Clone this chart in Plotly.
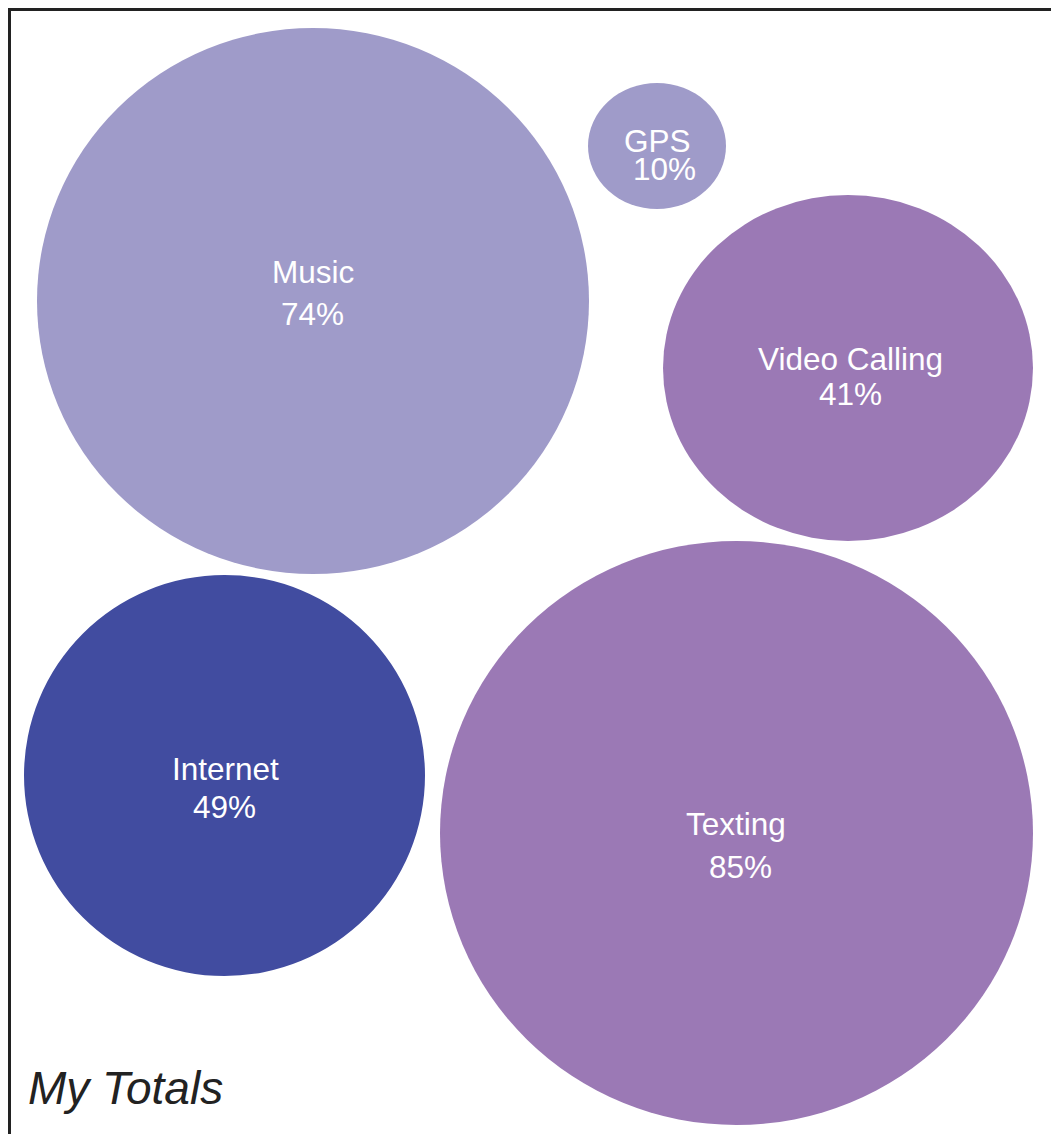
import plotly.graph_objects as go

# ---- data ----
categories = ["Music", "GPS", "Video Calling", "Internet", "Texting"]
values = [74, 10, 41, 49, 85]
title_text = "My Totals"

# ---- layout (pixel-space placement of each bubble) ----
centers_x = [313, 657, 848, 224.5, 736.5]
centers_y = [301, 146, 368, 775.5, 833]
radii_x = [276, 69, 185, 200.5, 296.5]
radii_y = [273, 63, 173, 200.5, 292]
colors = ["#9f9bc9", "#9f9bc9", "#9b79b5", "#414ca0", "#9b79b5"]
name_pos = [(313, 271.5), (657.5, 141), (850, 359), (225.5, 769), (736, 824)]
pct_pos = [(312.5, 314), (664, 168.5), (850, 393.5), (224, 806.5), (740, 867)]

W, H = 1051, 1134
fig = go.Figure()

shapes = []
for cx, cy, rx, ry, col in zip(centers_x, centers_y, radii_x, radii_y, colors):
    shapes.append(dict(type="circle", xref="x", yref="y",
                       x0=cx - rx, x1=cx + rx, y0=cy - ry, y1=cy + ry,
                       fillcolor=col, line=dict(width=0), layer="below"))
# frame
shapes.append(dict(type="rect", xref="x", yref="y", x0=9.5, y0=9.5, x1=W + 20, y1=H + 20,
                   line=dict(color="#222222", width=3), fillcolor="rgba(0,0,0,0)", layer="above"))

font_lbl = dict(family="Liberation Sans, Arial, Helvetica, sans-serif", size=31.5, color="white")
annotations = []
for cat, val, (nx, ny), (px, py) in zip(categories, values, name_pos, pct_pos):
    annotations.append(dict(x=nx, y=ny, xref="x", yref="y", text=cat, showarrow=False,
                            xanchor="center", yanchor="middle", font=font_lbl))
    annotations.append(dict(x=px, y=py, xref="x", yref="y", text=f"{val}%", showarrow=False,
                            xanchor="center", yanchor="middle", font=font_lbl))
annotations.append(dict(x=26, y=1088, xref="x", yref="y", text=f"<i>{title_text}</i>",
                        showarrow=False, xanchor="left", yanchor="middle",
                        font=dict(family="Liberation Sans, Arial, Helvetica, sans-serif",
                                  size=46, color="#222222")))

fig.add_trace(go.Scatter(x=[0, W], y=[0, H], mode="markers", marker=dict(opacity=0),
                         hoverinfo="skip", showlegend=False))

fig.update_layout(
    width=W, height=H, margin=dict(l=0, r=0, t=0, b=0),
    paper_bgcolor="white", plot_bgcolor="white",
    xaxis=dict(range=[0, W], visible=False, fixedrange=True),
    yaxis=dict(range=[H, 0], visible=False, fixedrange=True),
    shapes=shapes, annotations=annotations, showlegend=False,
)
fig.write_html("out.html", config={"displayModeBar": False},
               post_script="document.body.style.margin='0';document.body.style.overflow='hidden';")
